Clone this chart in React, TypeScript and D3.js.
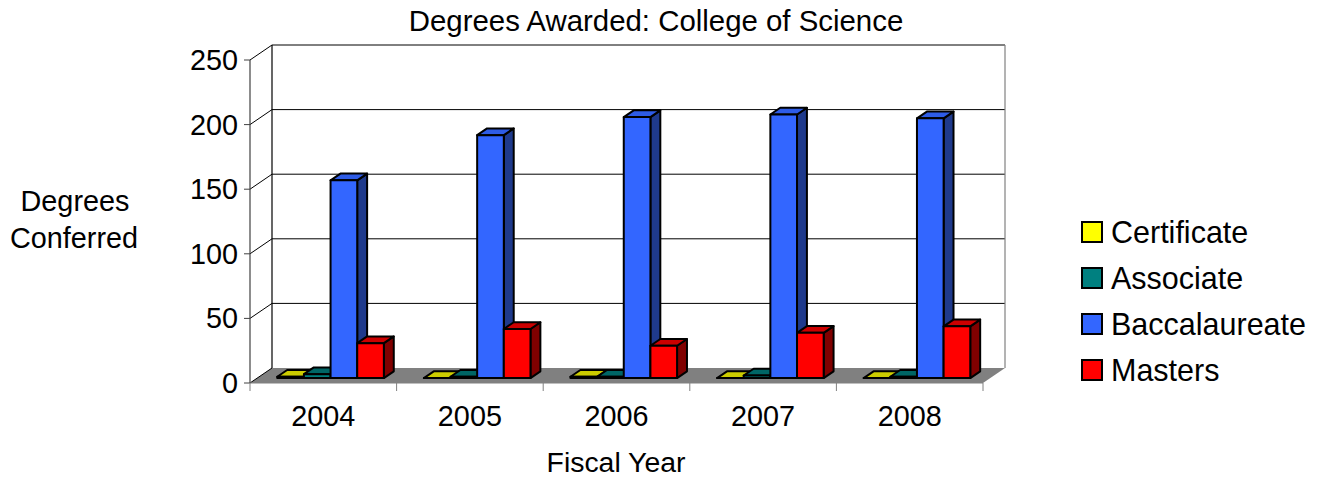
import * as d3 from 'd3';

const years = ['2004', '2005', '2006', '2007', '2008'];
const seriesNames = ['Certificate', 'Associate', 'Baccalaureate', 'Masters'];
const certificate = [1, 0, 1, 0, 0];
const associate = [3, 1, 1, 2, 1];
const baccalaureate = [153, 188, 202, 204, 201];
const masters = [27, 38, 25, 35, 40];
const yTicks = [0, 50, 100, 150, 200, 250];

const seriesValues = [certificate, associate, baccalaureate, masters];
const fills = ['#FFFF00', '#008080', '#3366FF', '#FF0000'];
const tops = ['#CCCC00', '#006666', '#2E5CE6', '#CC0000'];
const sides = ['#808000', '#004040', '#1F3A8C', '#800000'];

const W = 1325;
const H = 482;
const FONT = "'Liberation Sans', Arial, sans-serif";

// oblique depth of the plot box
const DX = 22;
const DY = -15;
const F0 = 0.33; // bar front depth
const F1 = 0.78; // bar back depth

function Label({ x, y, anchor = 'start', size = 28.8, children }: any) {
  return (
    <text x={x} y={y} textAnchor={anchor} fontFamily={FONT} fontSize={size} fill="#000">
      {children}
    </text>
  );
}

export default function App() {
  const x0 = d3.scaleBand().domain(years).range([250, 983]).paddingInner(0).paddingOuter(0);
  const x1 = d3
    .scaleBand()
    .domain(seriesNames)
    .range([0, x0.bandwidth()])
    .paddingInner(0)
    .paddingOuter(0.75);
  const y = d3.scaleLinear().domain([0, 250]).range([383, 60]);

  const [left, right] = x0.range();
  const base = y(0);

  const pt = (px: number, py: number, f: number) => `${px + DX * f},${py + DY * f}`;

  const bars: any[] = [];
  years.forEach((yr, i) => {
    seriesNames.forEach((s, j) => {
      const v = seriesValues[j][i];
      const xl = x0(yr)! + x1(s)!;
      const xr = xl + x1.bandwidth();
      const yt = y(v);
      const front = [pt(xl, base, F0), pt(xr, base, F0), pt(xr, yt, F0), pt(xl, yt, F0)].join(' ');
      const top = [pt(xl, yt, F0), pt(xr, yt, F0), pt(xr, yt, F1), pt(xl, yt, F1)].join(' ');
      const side = [pt(xr, base, F0), pt(xr, base, F1), pt(xr, yt, F1), pt(xr, yt, F0)].join(' ');
      bars.push(
        <g key={`${yr}-${s}`} stroke="#000" strokeWidth={2} strokeLinejoin="round">
          <polygon points={side} fill={sides[j]} />
          <polygon points={top} fill={tops[j]} />
          <polygon points={front} fill={fills[j]} />
        </g>
      );
    });
  });

  return (
    <svg width={W} height={H} style={{ position: 'absolute', left: 0, top: 0 }}>
      <rect width={W} height={H} fill="#fff" />

      {/* back wall */}
      <rect x={left + DX} y={y(250) + DY} width={right - left} height={base - y(250)} fill="#fff" />
      {/* floor */}
      <polygon
        points={[pt(left, base, 0), pt(right, base, 0), pt(right, base, 1), pt(left, base, 1)].join(' ')}
        fill="#808080"
      />
      {/* gridlines on back wall and side */}
      {yTicks.map((t) => (
        <g key={t} stroke="#000" strokeWidth={1}>
          {t > 0 && <line x1={left + DX} x2={right + DX} y1={y(t) + DY} y2={y(t) + DY} />}
          <line x1={left} x2={left + DX} y1={y(t)} y2={y(t) + DY} />
        </g>
      ))}
      <line x1={left + DX} x2={left + DX} y1={y(250) + DY} y2={base + DY} stroke="#000" strokeWidth={1.2} />
      <line x1={right + DX} x2={right + DX} y1={y(250) + DY} y2={base + DY} stroke="#808080" strokeWidth={1.2} />

      {/* value axis */}
      <line x1={left} x2={left} y1={y(250)} y2={base} stroke="#404040" strokeWidth={1.2} />
      {yTicks.map((t) => (
        <g key={t}>
          <line x1={left - 6} x2={left} y1={y(t)} y2={y(t)} stroke="#404040" strokeWidth={1} />
          <Label x={238} y={y(t) + 10} anchor="end">
            {t}
          </Label>
        </g>
      ))}

      {/* category axis */}
      <line x1={left} x2={right} y1={base} y2={base} stroke="#808080" strokeWidth={1} />
      {[...years.map((yr) => x0(yr)!), right].map((bx, k) => (
        <line key={k} x1={bx} x2={bx} y1={base} y2={base + 8} stroke="#808080" strokeWidth={1} />
      ))}
      {years.map((yr) => (
        <Label key={yr} x={x0(yr)! + x0.bandwidth() / 2} y={426} anchor="middle">
          {yr}
        </Label>
      ))}

      {bars}

      {/* titles */}
      <Label x={656} y={31} anchor="middle" size={29.4}>
        Degrees Awarded: College of Science
      </Label>
      <Label x={75} y={211} anchor="middle">
        Degrees
      </Label>
      <Label x={74} y={248} anchor="middle">
        Conferred
      </Label>
      <Label x={616} y={472} anchor="middle" size={28.4}>
        Fiscal Year
      </Label>

      {/* legend */}
      {seriesNames.map((s, j) => (
        <g key={s}>
          <rect x={1082} y={222 + j * 46} width={20} height={20} fill={fills[j]} stroke="#000" strokeWidth={2} />
          <Label x={1111} y={243 + j * 46} size={30.5}>
            {s}
          </Label>
        </g>
      ))}
    </svg>
  );
}
